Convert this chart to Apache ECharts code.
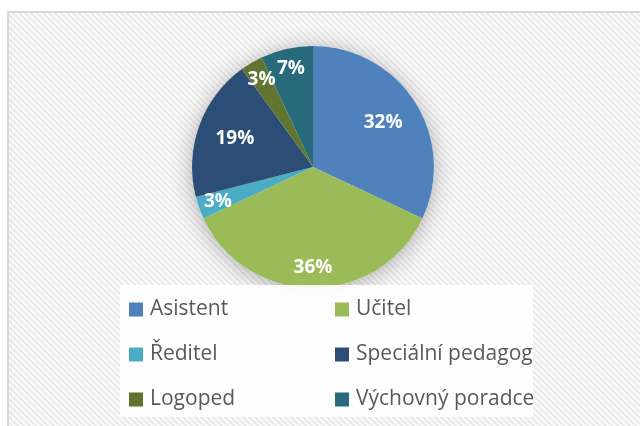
<!DOCTYPE html>
<html lang="cs">
<head>
    <meta charset="UTF-8">
    <title>Pie</title>
    <style>
        html, body { margin: 0; padding: 0; background: #fff; }
        #box { width: 640px; height: 426px; }
    </style>
    <script src="https://cdn.jsdelivr.net/npm/echarts@6/dist/echarts.min.js"></script>
</head>
<body>
    <div id="box"></div>
    <script>
        // data
        const names = ['Asistent', 'Učitel', 'Ředitel', 'Speciální pedagog', 'Logoped', 'Výchovný poradce'];
        const values = [32, 36, 3, 19, 3, 7];
        const colors = ['#4F81BD', '#9BBB59', '#4BACC6', '#2C4D75', '#5F7530', '#276A7C'];
        // which labels sit nearer the centre (Excel best fit)
        const innerLabel = [true, false, false, true, false, false];

        (function () {
            // striped background pattern
            let pc = document.createElement('canvas');
            pc.width = 6; pc.height = 6;
            let ctx = pc.getContext('2d');
            ctx.fillStyle = '#fbfbfb';
            ctx.fillRect(0, 0, 6, 6);
            ctx.strokeStyle = '#eaeaea';
            ctx.lineWidth = 2;
            ctx.beginPath();
            ctx.moveTo(-1, -1); ctx.lineTo(7, 7);
            ctx.moveTo(-4, 2); ctx.lineTo(4, 10);
            ctx.moveTo(2, -4); ctx.lineTo(10, 4);
            ctx.stroke();

            let data = names.map((n, i) => ({ name: n, value: values[i] }));
            let total = values.reduce((a, b) => a + b, 0);
            let center = [313, 167];

            // transparent pie that only carries the labels
            function labelPie(radius, inner) {
                return {
                    type: 'pie', silent: true, z: 3,
                    center: center, radius: radius,
                    startAngle: 90, clockwise: true,
                    avoidLabelOverlap: false,
                    itemStyle: { color: 'rgba(0,0,0,0)' },
                    label: {
                        position: 'inside',
                        formatter: '{d}%',
                        color: '#ffffff',
                        fontFamily: 'Open Sans',
                        fontWeight: 'bold',
                        fontSize: 19
                    },
                    labelLine: { show: false },
                    emphasis: { disabled: true },
                    data: data.map((d, i) => ({
                        name: d.name, value: d.value,
                        label: { show: innerLabel[i] === inner }
                    }))
                };
            }

            let option = {
                animation: false,
                color: colors,
                graphic: [
                    {
                        type: 'rect', z: -10, silent: true,
                        shape: { x: 8, y: 12, width: 700, height: 500 },
                        style: { fill: { image: pc, repeat: 'repeat' }, stroke: '#d9d9d9', lineWidth: 2 }
                    },
                    {
                        type: 'rect', z: 5, silent: true,
                        shape: { x: 120, y: 285, width: 413, height: 132 },
                        style: { fill: '#ffffff', opacity: 0.9 }
                    }
                ],
                legend: {
                    z: 10,
                    left: 129,
                    top: 292,
                    width: 420,
                    padding: 0,
                    itemGap: 10,
                    itemWidth: 14,
                    itemHeight: 14,
                    icon: 'rect',
                    selectedMode: false,
                    textStyle: {
                        color: '#595959',
                        fontFamily: 'Open Sans',
                        fontSize: 21,
                        width: 175,
                        lineHeight: 35,
                        padding: [0, 0, 0, 2]
                    },
                    data: names
                },
                series: [
                    {
                        // shadow behind the pie
                        type: 'pie', silent: true, z: 1,
                        center: center, radius: 121,
                        label: { show: false },
                        itemStyle: {
                            color: '#ffffff',
                            shadowBlur: 22,
                            shadowColor: 'rgba(0,0,0,0.3)',
                            shadowOffsetY: 3
                        },
                        data: [{ name: '', value: total }]
                    },
                    {
                        type: 'pie', silent: true, z: 2,
                        center: center, radius: 121,
                        startAngle: 90, clockwise: true,
                        label: { show: false },
                        labelLine: { show: false },
                        emphasis: { disabled: true },
                        data: data
                    },
                    labelPie(160, true),
                    labelPie(196, false)
                ]
            };

            let chart = echarts.init(box);
            chart.setOption(option);
        })();
    </script>
</body>
</html>
